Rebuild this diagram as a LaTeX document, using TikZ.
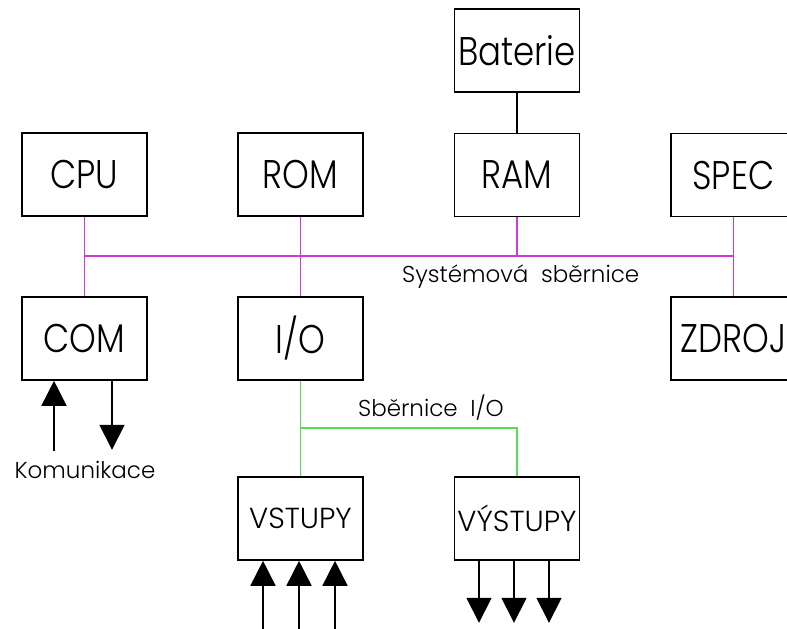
\documentclass[tikz,border=0pt]{standalone}
\usepackage{fontspec}
\setmainfont{Poppins}[UprightFont={* Light}]
\newfontfamily\blockfont{Poppins}[UprightFont={* Light}, FakeStretch=0.85]
\usetikzlibrary{arrows.meta,positioning}
\definecolor{busmag}{RGB}{204,60,214}
\definecolor{busgreen}{RGB}{90,220,90}

\begin{document}
\begin{tikzpicture}[x=1pt, y=-1pt,
    block/.style={draw, rectangle, line width=1.6pt, minimum width=125pt, minimum height=83pt, inner sep=0pt, font=\blockfont\fontsize{40}{40}\selectfont},
    smallblock/.style={block, font=\rmfamily\fontsize{29}{29}\selectfont},
    sysbus/.style={draw=busmag, line width=1.4pt},
    iobus/.style={draw=busgreen, line width=1.4pt},
    wire/.style={draw=black, line width=1.4pt},
    bigarrow/.style={-{Triangle[length=25pt,width=25pt]}, line width=1.6pt},
    label/.style={inner sep=0pt, font=\fontsize{23}{23}\selectfont},
]

\clip (0,0) rectangle (787,629);

% Blocks
\node[block] (bat) at (517,50.5) {Baterie};
\node[block] (cpu) at (84.5,174.5) {CPU};
\node[block] (rom) at (300.5,174.5) {ROM};
\node[block] (ram) at (517,175) {RAM};
\node[block] (spec) at (733.5,175) {SPEC};
\node[block] (com) at (84.5,338.5) {COM};
\node[block] (io) at (300.5,338.5) {I/O};
\node[block] (zdroj) at (733.5,338.5) {ZDROJ};
\node[smallblock] (vst) at (300.5,518.5) {VSTUPY};
\node[smallblock] (vyst) at (517,518.5) {VÝSTUPY};

% System bus (magenta)
\coordinate (busL) at (84.5,256);
\coordinate (busR) at (733.5,256);
\draw[sysbus] (busL) -- (busR);
\draw[sysbus] (cpu.south) -- (com.north);
\draw[sysbus] (rom.south) -- (io.north);
\draw[sysbus] (spec.south) -- (zdroj.north);
\draw[sysbus] (ram.south) -- (ram.south |- busR);
\draw[wire] (bat) -- (ram);

\node[label, anchor=west] (sysbuslabel) at (402,277) {Systémová~~sběrnice};

% I/O bus (green)
\coordinate (iojoin) at (300.5,428);
\draw[iobus] (io.south) -- (vst.north);
\draw[iobus] (iojoin) -| (vyst.north);

\node[label] (iobuslabel) at (431,408) {Sběrnice~~I/O};

% Communication
\draw[bigarrow] ([xshift=-30.5pt]com.south) ++(0,70) -- ([xshift=-30.5pt]com.south);
\draw[bigarrow] ([xshift=27.5pt]com.south) -- ++(0,69);
\node[label] (komlabel) at (85,470) {Komunikace};

% Inputs and outputs
\foreach \dx in {-37.5,-1.5,34.5}
  \draw[bigarrow] ([xshift=\dx pt]vst.south) ++(0,80) -- ([xshift=\dx pt]vst.south);
\foreach \dx in {-38,-3,32}
  \draw[bigarrow] ([xshift=\dx pt]vyst.south) -- ++(0,62);

\end{tikzpicture}
\end{document}
